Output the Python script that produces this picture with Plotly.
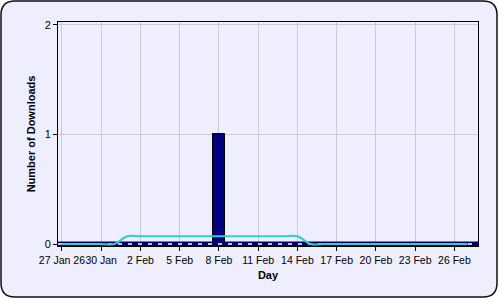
import plotly.graph_objects as go

# ---- data ----
day_index = list(range(32))  # days from 27 Jan
downloads = [0]*12 + [1] + [0]*19
moving_avg = [0, 0, 0, 0, 0] + [1/14]*14 + [0]*13
tick_vals = [0, 3, 6, 9, 12, 15, 18, 21, 24, 27, 30]
tick_text = ["27 Jan 26", "30 Jan", "2 Feb", "5 Feb", "8 Feb", "11 Feb",
             "14 Feb", "17 Feb", "20 Feb", "23 Feb", "26 Feb"]
x_range = [-0.3, 31.8]
y_range = [-0.018, 2.027]

W, H = 500, 300
L, R, T, B = 58, 22, 22, 54
pw, ph = W - L - R, H - T - B

def px(x):
    return (x - L) / pw

def py(y):
    return (H - B - y) / ph

fig = go.Figure()

# floor band
fig.add_trace(go.Scatter(x=x_range, y=[0, 0], mode="lines",
                         line=dict(color="#000066", width=5),
                         hoverinfo="skip", showlegend=False))
fig.add_trace(go.Scatter(x=x_range, y=[0, 0], mode="lines",
                         line=dict(color="white", width=1.5, dash="4px,6px"),
                         hoverinfo="skip", showlegend=False))

fig.add_trace(go.Bar(x=day_index, y=downloads, width=0.9,
                     marker=dict(color="#000080", line=dict(color="black", width=1)),
                     showlegend=False))

fig.add_trace(go.Scatter(x=day_index, y=moving_avg, mode="lines",
                         line=dict(color="#33CCCC", width=2, shape="spline", smoothing=1.0),
                         showlegend=False))

# rounded background panel
x0, y0, x1, y1, r = 1, 1, 497, 297, 14
path = (f"M {px(x0+r)},{py(y0)} L {px(x1-r)},{py(y0)} "
        f"Q {px(x1)},{py(y0)} {px(x1)},{py(y0+r)} "
        f"L {px(x1)},{py(y1-r)} Q {px(x1)},{py(y1)} {px(x1-r)},{py(y1)} "
        f"L {px(x0+r)},{py(y1)} Q {px(x0)},{py(y1)} {px(x0)},{py(y1-r)} "
        f"L {px(x0)},{py(y0+r)} Q {px(x0)},{py(y0)} {px(x0+r)},{py(y0)} Z")
fig.add_shape(type="path", path=path, xref="paper", yref="paper",
              fillcolor="#EEEEFF", line=dict(color="#111111", width=1.5), layer="below")

font_family = "Liberation Sans, Arial, sans-serif"
fig.update_layout(
    width=W, height=H,
    margin=dict(l=L, r=R, t=T, b=B),
    paper_bgcolor="white",
    plot_bgcolor="white",
    bargap=0,
    font=dict(family=font_family, size=12, color="black"),
    xaxis=dict(range=x_range, tickvals=tick_vals, ticktext=tick_text,
               tickfont=dict(size=10.5),
               showgrid=True, gridcolor="#CCCCCC", gridwidth=1,
               showline=True, linecolor="black", linewidth=1, mirror=True,
               ticks="outside", ticklen=4, tickcolor="black", zeroline=False,
               tickangle=0,
               title=dict(text="<b>Day</b>", font=dict(size=11), standoff=6)),
    yaxis=dict(range=y_range, tickvals=[0, 1, 2], ticktext=["0", "1", "2"],
               tickfont=dict(size=11),
               showgrid=True, gridcolor="#CCCCCC", gridwidth=1,
               showline=True, linecolor="black", linewidth=1, mirror=True,
               ticks="outside", ticklen=4, tickcolor="black", zeroline=False,
               title=dict(text="<b>Number of Downloads</b>", font=dict(size=11), standoff=6)),
)

fig.write_html("out.html")
